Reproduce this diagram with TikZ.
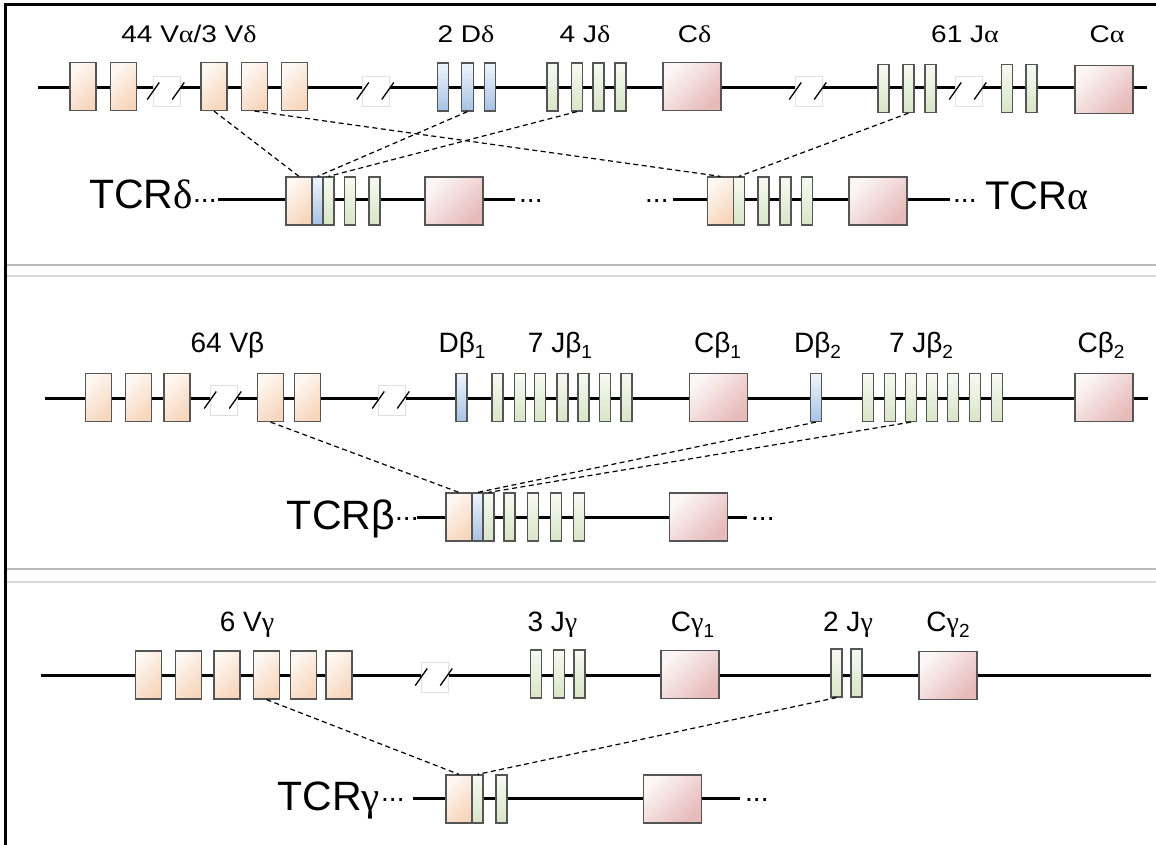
\documentclass[tikz,border=0pt]{standalone}
\usepackage{fontspec}
\setmainfont{Liberation Sans}
\newfontfamily\grk{Liberation Serif}

\definecolor{vtop}{HTML}{FEF8F3}
\definecolor{vbot}{HTML}{F7D6BC}
\definecolor{dtop}{HTML}{F0F5FB}
\definecolor{dbot}{HTML}{A6C2E5}
\definecolor{jtop}{HTML}{F7FAF2}
\definecolor{jbot}{HTML}{D8E5C7}
\definecolor{ctop}{HTML}{FCF6F6}
\definecolor{cbot}{HTML}{E6BBB9}
\definecolor{segedge}{HTML}{555555}
\definecolor{sepdark}{HTML}{B8B8B8}
\definecolor{seplight}{HTML}{D8D8D8}

% Greek letters in a serif face, as in the gene labels
\newcommand\gal{{\grk α}}
\newcommand\gde{{\grk δ}}
\newcommand\gga{{\grk γ}}
% label faces
\newcommand\toplab[1]{\scalebox{1}[0.86]{\fontsize{28}{30}\selectfont #1}}
\newcommand\midlab[1]{{\fontsize{28}{30}\selectfont #1}}
\newcommand\sub[1]{\raisebox{-6pt}{\fontsize{19}{19}\selectfont #1}}
\newcommand\dotsfont{\fontsize{28}{30}\selectfont}

% interrupted stretch of the locus: white patch with two slashes
\newcommand\gapmark[3]{%
  \node[brk] (#1) at (#2,#3) {};
  \draw[slash] ([shift={(-5.5pt,-8.5pt)}]#1.west) -- ++(12pt,17pt);
  \draw[slash] ([shift={(-8pt,-8.5pt)}]#1.east) -- ++(12pt,17pt);
}

\begin{document}
\begin{tikzpicture}[x=1pt,y=-1pt,
  chrom/.style={line width=3pt},
  seg/.style={draw=segedge, line width=1.2pt, inner sep=0pt, minimum height=48pt},
  vseg/.style={seg, minimum width=26pt, top color=vtop, bottom color=vbot, shading angle=45},
  dseg/.style={seg, minimum width=11.5pt, top color=dtop, bottom color=dbot},
  jseg/.style={seg, minimum width=11pt, top color=jtop, bottom color=jbot},
  cseg/.style={seg, minimum width=58pt, top color=ctop, bottom color=cbot, shading angle=45},
  brk/.style={draw=black!12, line width=0.5pt, fill=white, inner sep=0pt, minimum width=27pt, minimum height=30pt},
  slash/.style={line width=1.3pt},
  link/.style={dash pattern=on 5pt off 3.5pt, line width=1.2pt},
  lab/.style={anchor=base, inner sep=0pt},
  sepA/.style={draw=sepdark, line width=2pt},
  sepB/.style={draw=seplight, line width=2pt}]
\useasboundingbox (0,0) rectangle (1156,845);

% frame and panel separators
\draw[line width=3pt] (5,845) -- (5,5) -- (1156,5);
\draw[sepA] (6.5,265) -- (1156,265);
\draw[sepB] (6.5,276) -- (1156,276);
\draw[sepA] (6.5,569) -- (1156,569);
\draw[sepB] (6.5,582) -- (1156,582);

% ---------------- alpha / delta locus ----------------
\draw[chrom] (38,88) -- (1147,88);
\foreach \n/\x in {1/83,2/123.5,3/214,4/254.5,5/294.5}
  \node[vseg] (ad-v\n) at (\x,86.5) {};
\foreach \n/\x in {1/443,2/467.5,3/490}
  \node[dseg] (ad-d\n) at (\x,87) {};
\foreach \n/\x in {1/552.5,2/577,3/598.5,4/620.5}
  \node[jseg] (ad-j\n) at (\x,87) {};
\node[cseg] (ad-cd) at (692,86.5) {};
\foreach \n/\x in {1/883.5,2/908.5,3/930.5,4/1007,5/1031.5}
  \node[jseg] (ad-ja\n) at (\x,88.5) {};
\node[cseg] (ad-ca) at (1104,89.5) {};
\gapmark{ad-g1}{166.5}{91}
\gapmark{ad-g2}{376}{91}
\gapmark{ad-g3}{808.5}{91}
\gapmark{ad-g4}{968.5}{91}

\node[lab] (ad-lv) at (189,43) {\toplab{44 V\gal/3 V\gde}};
\node[lab] (ad-ld) at (466,43) {\toplab{2 D\gde}};
\node[lab] (ad-lj) at (585,43) {\toplab{4 J\gde}};
\node[lab] (ad-lc) at (694.5,43) {\toplab{C\gde}};
\node[lab] (ad-lja) at (965,43) {\toplab{61 J\gal}};
\node[lab] (ad-lca) at (1107,43) {\toplab{C\gal}};

% rearranged TCR delta
\draw[chrom] (218,200) -- (515,200);
\node[vseg] (d-v) at (299,201) {};
\node[dseg, minimum width=11pt] (d-d) at (317.5,201) {};
\node[jseg] (d-j1) at (328.5,201) {};
\node[jseg] (d-j2) at (350,201) {};
\node[jseg] (d-j3) at (374.5,201) {};
\node[cseg] (d-c) at (454,201) {};
\node[anchor=base east, inner sep=0pt] (d-name) at (193,208) {\fontsize{41}{43}\selectfont TCR\gde};
\node[anchor=base west, inner sep=0pt] (d-dl) at (193,203) {\dotsfont ...};
\node[anchor=base west, inner sep=0pt] (d-dr) at (519,203) {\dotsfont ...};

% rearranged TCR alpha
\draw[chrom] (673,200) -- (950,200);
\node[vseg] (a-v) at (720.5,201) {};
\node[jseg] (a-j1) at (739,201) {};
\node[jseg] (a-j2) at (763.5,201) {};
\node[jseg] (a-j3) at (785.5,201) {};
\node[jseg] (a-j4) at (807,201) {};
\node[cseg] (a-c) at (878,201) {};
\node[anchor=base west, inner sep=0pt] (a-dl) at (645,203) {\dotsfont ...};
\node[anchor=base west, inner sep=0pt] (a-dr) at (953,203) {\dotsfont ...};
\node[anchor=base west, inner sep=0pt] (a-name) at (985,209) {\fontsize{40}{42}\selectfont TCR\gal};

\draw[link] (ad-v3.south) -- (d-v.north);
\draw[link] (ad-d2.south) -- (d-d.north);
\draw[link] (ad-j2.south) -- (d-j1.north);
\draw[link] (ad-v4.south) -- (a-v.north);
\draw[link] (ad-ja2.south) -- (a-j1.north);

% ---------------- beta locus ----------------
\draw[chrom] (45,398) -- (1148,398);
\foreach \n/\x in {1/98.5,2/138.5,3/177,4/270.5,5/307.5}
  \node[vseg] (b-v\n) at (\x,397.5) {};
\node[dseg, minimum width=11pt] (b-d1) at (461.5,397.5) {};
\foreach \n/\x in {1/497.5,2/520,3/540,4/562.5,5/583.5,6/605,7/626.5}
  \node[jseg] (b-ja\n) at (\x,397.5) {};
\node[cseg] (b-c1) at (718.5,397.5) {};
\node[dseg, minimum width=11pt] (b-d2) at (816,397.5) {};
\foreach \n/\x in {1/868,2/890,3/911,4/932,5/953,6/975,7/997}
  \node[jseg] (b-jb\n) at (\x,397.5) {};
\node[cseg] (b-c2) at (1104,397.5) {};
\gapmark{b-g1}{223.5}{400}
\gapmark{b-g2}{391.5}{400}

\node[lab] (b-lv) at (227.5,352) {\midlab{64 Vβ}};
\node[lab] (b-ld1) at (462,352) {\midlab{Dβ\sub{1}}};
\node[lab] (b-lj1) at (560,352) {\midlab{7 Jβ\sub{1}}};
\node[lab] (b-lc1) at (717.5,352) {\midlab{Cβ\sub{1}}};
\node[lab] (b-ld2) at (817.5,352) {\midlab{Dβ\sub{2}}};
\node[lab] (b-lj2) at (921,352) {\midlab{7 Jβ\sub{2}}};
\node[lab] (b-lc2) at (1101,352) {\midlab{Cβ\sub{2}}};

% rearranged TCR beta
\draw[chrom] (417,517) -- (747,517);
\node[vseg] (r-v) at (459,517) {};
\node[dseg, minimum width=11pt] (r-d) at (477.5,517) {};
\node[jseg] (r-j1) at (488.5,517) {};
\node[jseg] (r-j2) at (509.5,517) {};
\node[jseg] (r-j3) at (533,517) {};
\node[jseg] (r-j4) at (556,517) {};
\node[jseg] (r-j5) at (579,517) {};
\node[cseg] (r-c) at (698.5,517) {};
\node[anchor=base east, inner sep=0pt] (r-name) at (395,529) {\fontsize{41}{43}\selectfont TCRβ};
\node[anchor=base west, inner sep=0pt] (r-dl) at (395,520) {\dotsfont ...};
\node[anchor=base west, inner sep=0pt] (r-dr) at (751,520) {\dotsfont ...};

\draw[link] (b-v4.south) -- (r-v.north);
\draw[link] (b-d2.south) -- (r-d.north);
\draw[link] (b-jb3.south) -- (r-j1.north);

% ---------------- gamma locus ----------------
\draw[chrom] (41,675) -- (1151,675);
\foreach \n/\x in {1/148.5,2/188.5,3/227,4/266.5,5/303.5,6/339}
  \node[vseg] (g-v\n) at (\x,675) {};
\foreach \n/\x in {1/536,2/559,3/579.5}
  \node[jseg] (g-ja\n) at (\x,674) {};
\node[cseg] (g-c1) at (690,674.5) {};
\foreach \n/\x in {1/836.5,2/856.5}
  \node[jseg] (g-jb\n) at (\x,673) {};
\node[cseg] (g-c2) at (948,675.5) {};
\gapmark{g-g1}{434.5}{677}

\node[lab] (g-lv) at (247,631) {\midlab{6 V\gga}};
\node[lab] (g-lj1) at (552.5,631) {\midlab{3 J\gga}};
\node[lab] (g-lc1) at (692.5,631) {\midlab{C\gga\sub{1}}};
\node[lab] (g-lj2) at (848,631) {\midlab{2 J\gga}};
\node[lab] (g-lc2) at (948,631) {\midlab{C\gga\sub{2}}};

% rearranged TCR gamma
\draw[chrom] (413,798) -- (740,798);
\node[vseg] (y-v) at (459,799) {};
\node[jseg] (y-j1) at (477.5,799) {};
\node[jseg] (y-j2) at (501.5,799) {};
\node[cseg] (y-c) at (672.5,799) {};
\node[anchor=base east, inner sep=0pt] (y-name) at (380,810) {\fontsize{41}{43}\selectfont TCR\gga};
\node[anchor=base west, inner sep=0pt] (y-dl) at (381,801) {\dotsfont ...};
\node[anchor=base west, inner sep=0pt] (y-dr) at (745,801) {\dotsfont ...};

\draw[link] (g-v4.south) -- (y-v.north);
\draw[link] (g-jb1.south) -- (y-j1.north);
\end{tikzpicture}
\end{document}
